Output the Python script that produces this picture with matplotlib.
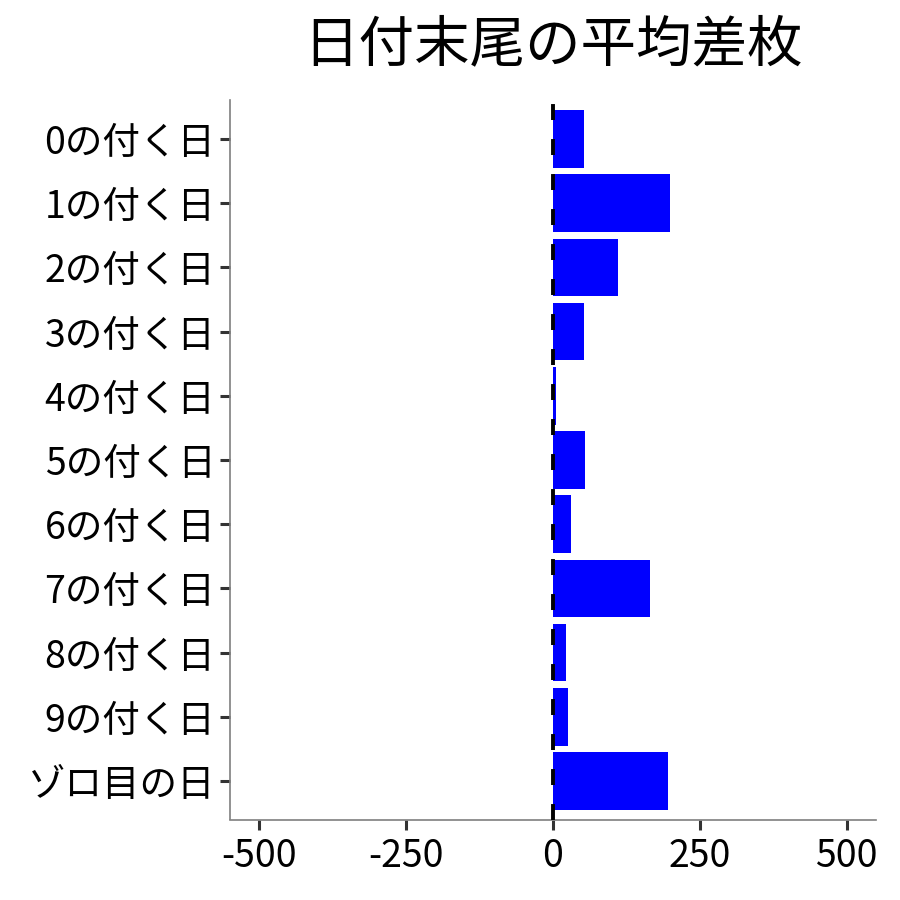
import matplotlib
matplotlib.use("Agg")
import matplotlib.pyplot as plt

plt.rcParams['font.family'] = ['Noto Sans CJK JP', 'DejaVu Sans']

categories = ["0の付く日", "1の付く日", "2の付く日", "3の付く日", "4の付く日",
              "5の付く日", "6の付く日", "7の付く日", "8の付く日", "9の付く日", "ゾロ目の日"]
values = [52, 200, 110, 52, 5, 55, 30, 166, 22, 26, 196]
xticks = [-500, -250, 0, 250, 500]
title = "日付末尾の平均差枚"

fig = plt.figure(figsize=(9, 9), dpi=100)
ax = fig.add_axes([230/900, 1-819.5/900, 646/900, 719/900])

n = len(categories)
ypos = list(range(n))
ax.barh(ypos, values, height=0.9, color="#0000FF", zorder=2)
ax.axvline(0, color="black", lw=2.8, ls=(0, (4.1, 4.9)), zorder=3)

ax.set_xlim(-550, 550)
ax.set_ylim(n - 0.4, -0.6)
ax.set_yticks(ypos)
ax.set_yticklabels(categories)
ax.set_xticks(xticks)
ax.set_xticklabels([str(v) for v in xticks])

for s in ["top", "right"]:
    ax.spines[s].set_visible(False)
for s in ["left", "bottom"]:
    ax.spines[s].set_color("#7F7F7F")
    ax.spines[s].set_linewidth(1.2)

ax.tick_params(axis="both", colors="#333333", width=2.2, length=7.5, labelsize=27,
               labelcolor="black")
ax.tick_params(axis="y", pad=3)
ax.tick_params(axis="x", pad=5)

ax.text(0.5, 1 + (100.5 - 45) / 719, title, transform=ax.transAxes,
        ha="center", va="center", fontsize=40)

fig.savefig("out.png", dpi=100)
